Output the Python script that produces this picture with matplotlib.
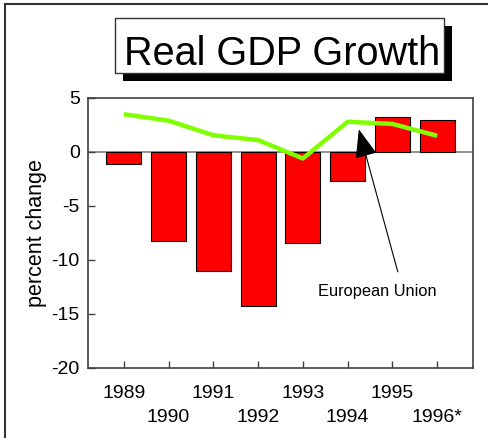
import matplotlib
matplotlib.use("Agg")
import matplotlib.pyplot as plt
from matplotlib.patches import Rectangle
from matplotlib.lines import Line2D

plt.rcParams['font.family'] = ['Liberation Sans', 'DejaVu Sans']
plt.rcParams['axes.unicode_minus'] = False

years = ['1989', '1990', '1991', '1992', '1993', '1994', '1995', '1996*']
growth = [-1.1, -8.2, -11.05, -14.3, -8.45, -2.7, 3.2, 3.0]
eu_growth = [3.5, 2.9, 1.55, 1.1, -0.6, 2.8, 2.6, 1.5]

fig = plt.figure(figsize=(4.88, 4.38), dpi=100)
ax = fig.add_axes([88 / 488, 1 - 368 / 438, 385 / 488, 270 / 438])

x = list(range(len(years)))
ax.axhline(0, color='#808080', lw=1.2, zorder=1)
ax.bar(x, growth, width=0.78, color='#ff0000', edgecolor='black', lw=0.8, zorder=2)
ax.plot(x, eu_growth, color='#80ff00', lw=3.2, zorder=3, solid_capstyle='butt')

ax.set_xlim(-0.8, 7.8)
ax.set_ylim(-20, 5)
ax.set_yticks([5, 0, -5, -10, -15, -20])
ax.set_xticks(x)
# stagger the year labels over two rows
ax.set_xticklabels([y if i % 2 == 0 else '\n' + y for i, y in enumerate(years)],
                   linespacing=1.55)
ax.tick_params(axis='both', direction='in', length=5, width=1, color='#404040',
               labelsize=14)
ax.tick_params(axis='x', pad=12)
ax.tick_params(axis='y', pad=6)
for s in ax.spines.values():
    s.set_color('#404040')
    s.set_linewidth(1.2)
ax.set_ylabel('percent change', fontsize=15.5, labelpad=3)

ax.annotate('', xy=(5.25, 2.1), xytext=(6.12, -11.1),
            arrowprops=dict(arrowstyle='-|>,head_length=0.9,head_width=0.35',
                            mutation_scale=20, color='black', lw=0.8,
                            shrinkA=0, shrinkB=0), zorder=4)
ax.text(5.66, -12.9, 'European Union', fontsize=11.8, ha='center', va='center')

# title box with drop shadow
fig.patches.append(Rectangle((123 / 488, 1 - 81 / 438), 329 / 488, 55 / 438,
                             transform=fig.transFigure, facecolor='black',
                             edgecolor='none'))
fig.patches.append(Rectangle((115 / 488, 1 - 73 / 438), 329 / 488, 55 / 438,
                             transform=fig.transFigure, facecolor='white',
                             edgecolor='#333333', lw=1))
fig.text(282.5 / 488, 1 - 65 / 438, 'Real GDP Growth', fontsize=28.5,
         ha='center', va='baseline')

# outer frame
fig.lines.append(Line2D([5 / 488, 5 / 488], [0, 1 - 4 / 438],
                        transform=fig.transFigure, color='#333333', lw=1.5))
fig.lines.append(Line2D([5 / 488, 1], [1 - 4 / 438, 1 - 4 / 438],
                        transform=fig.transFigure, color='#333333', lw=1.5))

fig.savefig('out.png', dpi=100)
